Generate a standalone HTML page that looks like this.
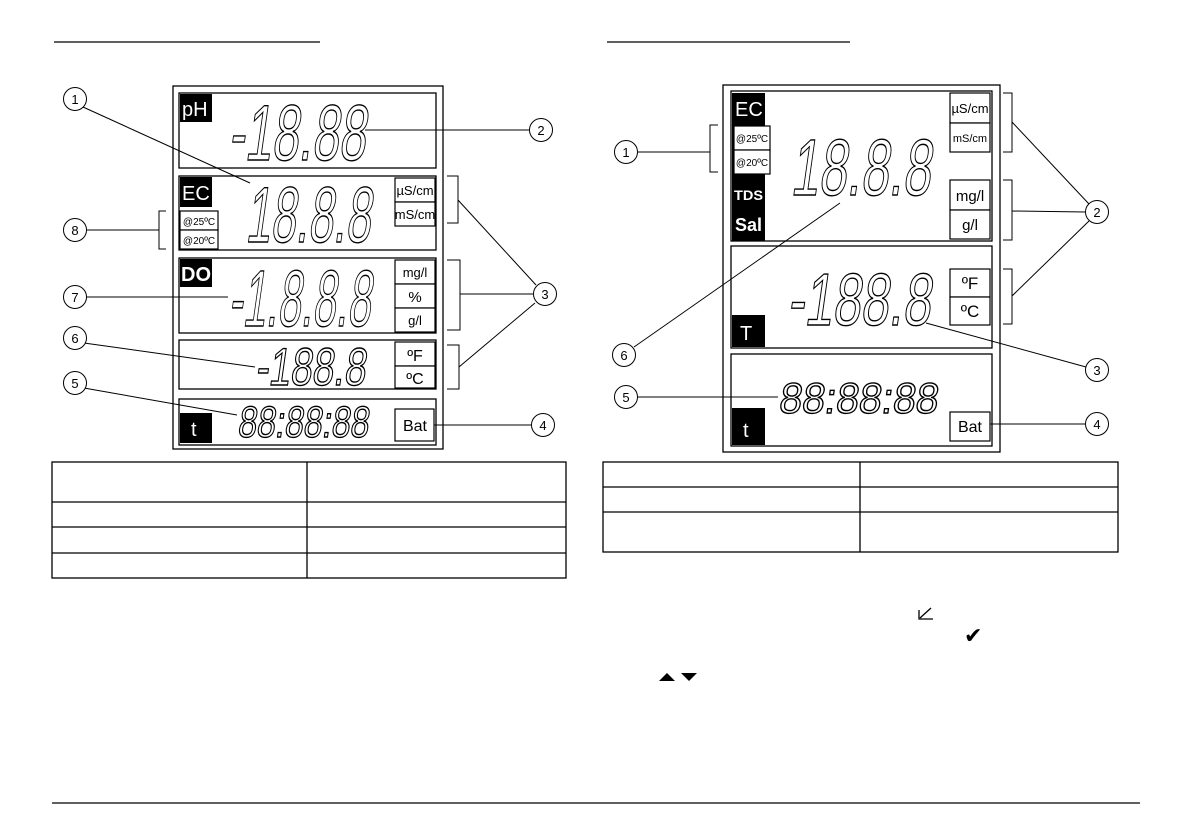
<!DOCTYPE html>
<html><head><meta charset="utf-8"><style>
html,body{margin:0;padding:0;background:#fff;}
svg{display:block;}
text{font-family:"Liberation Sans",sans-serif;}
.seg text{font-family:"Liberation Sans",sans-serif;fill:#fff;stroke:#000;stroke-width:1.4;}
</style></head><body>
<svg width="1192" height="840" viewBox="0 0 1192 840" xmlns="http://www.w3.org/2000/svg">
<g stroke="#000" fill="none" stroke-width="1.3">
<line x1="54" y1="42" x2="320" y2="42"/>
<line x1="607" y1="42" x2="850" y2="42"/>
<line x1="52" y1="803" x2="1140" y2="803"/>
<rect x="173" y="86" width="270" height="363"/>
<rect x="179" y="93" width="257" height="75"/>
<rect x="179" y="176" width="257" height="74"/>
<rect x="179" y="258" width="257" height="75"/>
<rect x="179" y="340" width="257" height="49"/>
<rect x="179" y="399" width="257" height="46"/>
<rect x="723" y="85" width="277" height="367"/>
<rect x="731" y="91" width="261" height="150"/>
<rect x="731" y="246" width="261" height="102"/>
<rect x="731" y="354" width="261" height="92"/>
<rect x="52" y="462" width="514" height="116"/>
<line x1="52" y1="502" x2="566" y2="502"/><line x1="52" y1="527" x2="566" y2="527"/><line x1="52" y1="553" x2="566" y2="553"/>
<line x1="307" y1="462" x2="307" y2="578"/>
<rect x="603" y="462" width="515" height="90"/>
<line x1="603" y1="487" x2="1118" y2="487"/><line x1="603" y1="512" x2="1118" y2="512"/>
<line x1="860" y1="462" x2="860" y2="552"/>
</g>
<g fill="#000">
<rect x="180" y="94" width="32" height="28"/>
<rect x="180" y="177" width="32" height="30"/>
<rect x="180" y="259" width="32" height="28"/>
<rect x="180" y="413" width="32" height="30"/>
<rect x="732" y="93" width="33" height="148"/>
<rect x="732" y="315" width="33" height="32"/>
<rect x="732" y="408" width="33" height="37"/>
</g>
<g fill="#fff" font-size="20">
<text x="182" y="116">pH</text>
<text x="182" y="200">EC</text>
<text x="181" y="281" font-weight="bold">DO</text>
<text x="191" y="436">t</text>
<text x="735" y="116">EC</text>
<text x="734" y="200" font-size="14" font-weight="bold" textLength="29" lengthAdjust="spacingAndGlyphs">TDS</text>
<text x="735" y="231" font-size="18" font-weight="bold" textLength="27" lengthAdjust="spacingAndGlyphs">Sal</text>
<text x="740" y="340">T</text>
<text x="743" y="437">t</text>
</g>
<g stroke="#000" fill="#fff" stroke-width="1.2">
<rect x="180" y="211" width="38" height="19"/><rect x="180" y="230" width="38" height="19"/>
<rect x="395" y="178" width="40" height="24"/><rect x="395" y="202" width="40" height="24"/>
<rect x="395" y="260" width="40" height="24"/><rect x="395" y="284" width="40" height="24"/><rect x="395" y="308" width="40" height="24"/>
<rect x="395" y="342" width="40" height="24"/><rect x="395" y="366" width="40" height="22"/>
<rect x="395" y="409" width="39" height="32"/>
<rect x="734" y="126" width="36" height="24"/><rect x="734" y="150" width="36" height="24"/>
<rect x="950" y="93" width="40" height="30"/><rect x="950" y="123" width="40" height="29"/>
<rect x="950" y="180" width="40" height="30"/><rect x="950" y="210" width="40" height="29"/>
<rect x="950" y="269" width="40" height="28"/><rect x="950" y="297" width="40" height="28"/>
<rect x="950" y="412" width="40" height="29"/>
</g>
<g fill="#000" font-size="13" text-anchor="middle">
<text x="199" y="225" font-size="10">@25ºC</text><text x="199" y="244" font-size="10">@20ºC</text>
<text x="415" y="195">µS/cm</text><text x="415" y="219">mS/cm</text>
<text x="415" y="277">mg/l</text><text x="415" y="302" font-size="15">%</text><text x="415" y="325">g/l</text>
<text x="415" y="361" font-size="16">ºF</text><text x="415" y="384" font-size="16">ºC</text>
<text x="415" y="431" font-size="16">Bat</text>
<text x="752" y="142" font-size="10">@25ºC</text><text x="752" y="166" font-size="10">@20ºC</text>
<text x="970" y="113">µS/cm</text><text x="970" y="142" font-size="11">mS/cm</text>
<text x="970" y="201" font-size="15">mg/l</text><text x="970" y="230" font-size="15">g/l</text>
<text x="970" y="289" font-size="17">ºF</text><text x="970" y="317" font-size="17">ºC</text>
<text x="970" y="432" font-size="16">Bat</text>
</g>
<g class="seg">
<g transform="translate(228,160) skewX(-8)"><text x="0" y="0" font-size="79" textLength="137" lengthAdjust="spacingAndGlyphs">-18.88</text></g>
<g transform="translate(245,242) skewX(-8)"><text x="0" y="0" font-size="79" textLength="125" lengthAdjust="spacingAndGlyphs">18.8.8</text></g>
<g transform="translate(228,326) skewX(-8)"><text x="0" y="0" font-size="80" textLength="142" lengthAdjust="spacingAndGlyphs">-1.8.8.8</text></g>
<g transform="translate(255,385) skewX(-8)"><text x="0" y="0" font-size="53" textLength="110" lengthAdjust="spacingAndGlyphs">-188.8</text></g>
<g transform="translate(237,437) skewX(-8)"><text x="0" y="0" font-size="44" textLength="131" lengthAdjust="spacingAndGlyphs">88:88:88</text></g>
<g transform="translate(790,195) skewX(-8)"><text x="0" y="0" font-size="80" textLength="140" lengthAdjust="spacingAndGlyphs">18.8.8</text></g>
<g transform="translate(787,325) skewX(-8)"><text x="0" y="0" font-size="74" textLength="143" lengthAdjust="spacingAndGlyphs">-188.8</text></g>
<g transform="translate(778,413) skewX(-8)"><text x="0" y="0" font-size="43" textLength="159" lengthAdjust="spacingAndGlyphs">88:88:88</text></g>
</g>
<g stroke="#000" fill="none" stroke-width="1">
<line x1="83" y1="107" x2="250" y2="183"/>
<line x1="365" y1="130" x2="529" y2="130"/>
<line x1="86" y1="230" x2="159" y2="230"/><polyline points="166,211 159,211 159,249 166,249"/>
<line x1="86" y1="297" x2="228" y2="297"/>
<line x1="84" y1="343" x2="255" y2="367"/>
<line x1="84" y1="388" x2="237" y2="415"/>
<polyline points="447,176 458,176 458,223 447,223"/>
<polyline points="447,260 460,260 460,330 447,330"/>
<polyline points="447,345 459,345 459,389 447,389"/>
<line x1="458" y1="200" x2="536" y2="285"/><line x1="460" y1="294" x2="533" y2="294"/><line x1="459" y1="367" x2="535" y2="303"/>
<line x1="434" y1="425" x2="531" y2="425"/>
<line x1="638" y1="152" x2="710" y2="152"/><polyline points="718,125 710,125 710,172 718,172"/>
<polyline points="1003,93 1012,93 1012,152 1003,152"/>
<polyline points="1003,180 1012,180 1012,240 1003,240"/>
<polyline points="1003,269 1012,269 1012,324 1003,324"/>
<line x1="1012" y1="122" x2="1089" y2="204"/><line x1="1012" y1="211" x2="1085" y2="212"/><line x1="1012" y1="296" x2="1089" y2="221"/>
<line x1="926" y1="323" x2="1086" y2="367"/>
<line x1="990" y1="424" x2="1086" y2="424"/>
<line x1="637" y1="397" x2="778" y2="397"/>
<line x1="634" y1="347" x2="840" y2="203"/>
</g>
<g stroke="#000" fill="#fff" stroke-width="1">
<circle cx="75" cy="99" r="11.5"/><circle cx="541" cy="130" r="11.5"/><circle cx="545" cy="294" r="11.5"/>
<circle cx="543" cy="425" r="11.5"/><circle cx="75" cy="383" r="11.5"/><circle cx="75" cy="338" r="11.5"/>
<circle cx="75" cy="297" r="11.5"/><circle cx="75" cy="230" r="11.5"/>
<circle cx="626" cy="152" r="11.5"/><circle cx="1097" cy="212" r="11.5"/><circle cx="1097" cy="370" r="11.5"/>
<circle cx="1097" cy="424" r="11.5"/><circle cx="626" cy="397" r="11.5"/><circle cx="624" cy="355" r="11.5"/>
</g>
<g fill="#000" font-size="13" text-anchor="middle">
<text x="75" y="104">1</text><text x="541" y="135">2</text><text x="545" y="299">3</text>
<text x="543" y="430">4</text><text x="75" y="388">5</text><text x="75" y="343">6</text>
<text x="75" y="302">7</text><text x="75" y="235">8</text>
<text x="626" y="157">1</text><text x="1097" y="217">2</text><text x="1097" y="375">3</text>
<text x="1097" y="429">4</text><text x="626" y="402">5</text><text x="624" y="360">6</text>
</g>
<g stroke="#000" fill="none" stroke-width="1.3">
<polyline points="919,610 919,619 933,619"/><line x1="920" y1="618" x2="931" y2="608"/>
</g>
<text x="964" y="643" font-size="22" fill="#000">✔</text>
<polygon points="659,681 667,673 675,681" fill="#000"/>
<polygon points="681,673 697,673 689,681" fill="#000"/>
</svg>
</body></html>
